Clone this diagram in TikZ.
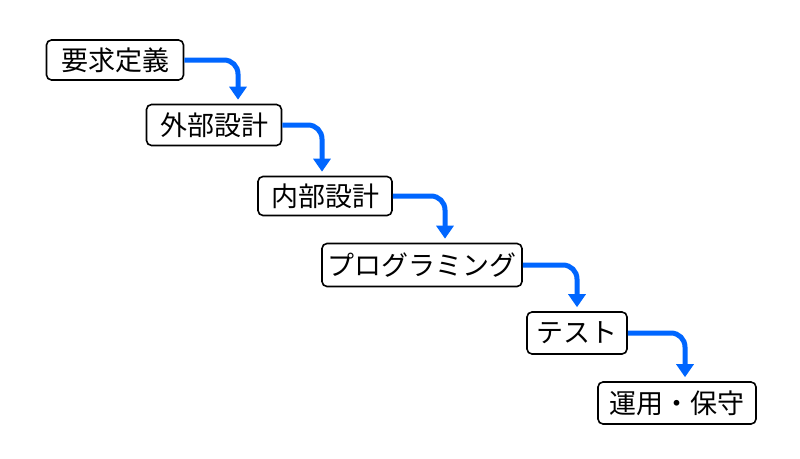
\documentclass[tikz,border=0pt]{standalone}
\usepackage{fontspec}
\setmainfont{Noto Sans CJK JP}
\usetikzlibrary{arrows.meta}

\begin{document}
\begin{tikzpicture}[x=1pt,y=-1pt,
  phase/.style={draw=black,line width=1.6pt,rounded corners=5pt,fill=white,
    font=\fontsize{27}{30}\selectfont,inner xsep=4pt,inner ysep=2pt},
  flow/.style={draw={rgb,255:red,0;green,102;blue,255},line width=5pt,rounded corners=14pt,
    -{Triangle[length=13pt,width=17pt]},shorten >=4pt}]
\useasboundingbox (0,0) rectangle (800,458);
% the phases
\node[phase,minimum width=137pt,minimum height=40pt] (req)  at (115,60)  {要求定義};
\node[phase,minimum width=135pt,minimum height=41pt] (ext)  at (214,125) {外部設計};
\node[phase,minimum width=134pt,minimum height=39pt] (int)  at (325,196) {内部設計};
\node[phase,minimum width=200pt,minimum height=43pt] (prog) at (422,265) {プログラミング};
\node[phase,minimum width=100pt,minimum height=42pt] (test) at (577,333) {テスト};
\node[phase,minimum width=158pt,minimum height=42pt] (ops)  at (677,403) {運用・保守};
% the flow between them
\draw[flow] (req.east)  -| ([xshift=24]ext.north);
\draw[flow] (ext.east)  -| ([xshift=-3]int.north);
\draw[flow] (int.east)  -| ([xshift=23]prog.north);
\draw[flow] (prog.east) -| (test.north);
\draw[flow] (test.east) -| ([xshift=8]ops.north);
\end{tikzpicture}
\end{document}
